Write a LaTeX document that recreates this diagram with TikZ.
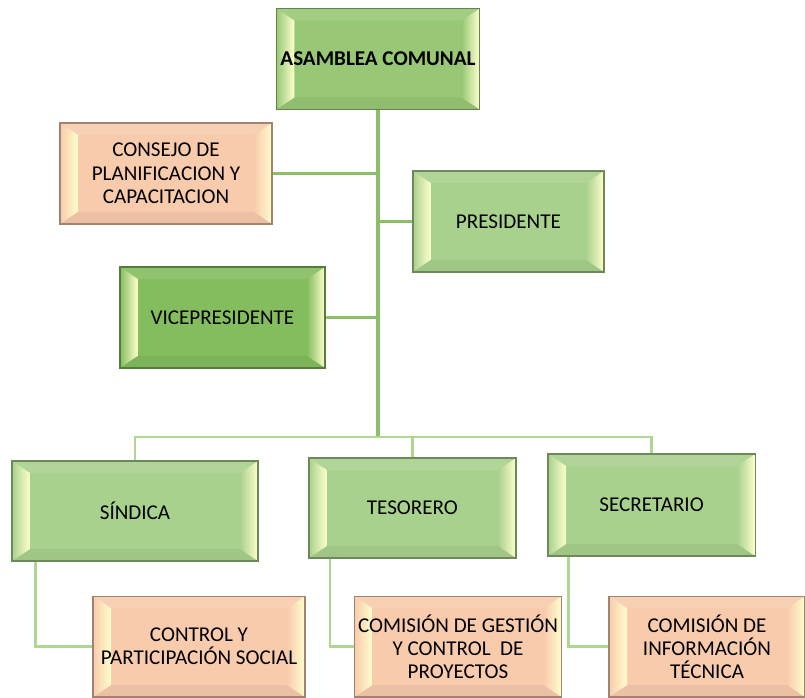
\documentclass[tikz,border=0pt]{standalone}
\usepackage{fontspec}
\setmainfont{Carlito}
\usetikzlibrary{calc}
\definecolor{leaf}{RGB}{169,209,142}
\definecolor{leafmid}{RGB}{152,200,118}
\definecolor{leafdark}{RGB}{132,189,94}
\definecolor{peach}{RGB}{248,203,173}
\definecolor{stemgreen}{RGB}{140,190,106}
\definecolor{twiggreen}{RGB}{176,214,150}
\newcommand{\cardfont}{\fontsize{15}{16.5}\selectfont}
\tikzset{
  card/.style={
    draw=#1!65!black, fill=#1, line width=1pt,
    minimum height=2.52cm, inner sep=2pt, align=center, font=\cardfont,
    path picture={
      \path (path picture bounding box.south west) coordinate (bsw)
            (path picture bounding box.north east) coordinate (bne);
      % bevel: top and bottom bands, then the two shaded sides
      \fill[white, opacity=.10] (bsw|-bne) -- (bne) -- ($(bne)+(-.45,-.3)$)
        -- ($(bsw|-bne)+(.45,-.3)$) -- cycle;
      \fill[black, opacity=.05] (bsw) -- (bne|-bsw) -- ($(bne|-bsw)+(-.45,.3)$)
        -- ($(bsw)+(.45,.3)$) -- cycle;
      \shade[left color=#1, right color=white!80!yellow]
        (bsw) -- (bsw|-bne) -- ($(bsw|-bne)+(.45,-.3)$) -- ($(bsw)+(.45,.3)$) -- cycle;
      \shade[left color=#1, right color=white!80!yellow]
        (bne) -- (bne|-bsw) -- ($(bne|-bsw)+(-.45,.3)$) -- ($(bne)+(-.45,-.3)$) -- cycle;
    }},
}

\begin{document}
\begin{tikzpicture}[
  stem/.style={draw=stemgreen, line width=2.2pt},
  twig/.style={draw=twiggreen, line width=1.8pt},
]
\useasboundingbox (0,0) rectangle (20.125,17.425);

% board
\node[card=leafmid, minimum width=5.08cm, font=\cardfont\bfseries] (asamblea)
  at (9.45,15.95) {ASAMBLEA COMUNAL};
\node[card=peach, minimum width=5.3cm] (consejo) at (4.15,13.09)
  {CONSEJO DE\\PLANIFICACION Y\\CAPACITACION};
\node[card=leaf, minimum width=4.78cm] (presidente) at (12.71,11.89) {PRESIDENTE};
\node[card=leafdark, minimum width=5.13cm] (vice) at (5.56,9.49) {VICEPRESIDENTE};

% second row
\node[card=leaf, minimum width=6.15cm, minimum height=2.5cm] (sindica) at (3.375,4.65) {SÍNDICA};
\node[card=leaf, minimum width=5.18cm, minimum height=2.5cm] (tesorero) at (10.31,4.725) {TESORERO};
\node[card=leaf, minimum width=5.18cm, minimum height=2.55cm] (secretario) at (16.29,4.8) {SECRETARIO};

% commissions
\node[card=peach, minimum width=5.3cm] (control) at (4.975,1.26)
  {CONTROL Y\\PARTICIPACIÓN SOCIAL};
\node[card=peach, minimum width=5.18cm] (gestion) at (11.45,1.26)
  {COMISIÓN DE GESTIÓN\\Y CONTROL\ \ DE\\PROYECTOS};
\node[card=peach, minimum width=4.9cm] (informacion) at (17.675,1.26)
  {COMISIÓN DE\\INFORMACIÓN\\TÉCNICA};

% trunk and side branches
\coordinate (trunk) at (asamblea.south);
\coordinate (bar) at (9.45,6.5);
\draw[stem] (trunk) -- (bar);
\draw[stem] (consejo.east) -- (consejo.east -| trunk);
\draw[stem] (presidente.west) -- (presidente.west -| trunk);
\draw[stem] (vice.east) -- (vice.east -| trunk);

% bar to the second row
\draw[twig] (sindica.north) |- (bar) -| (secretario.north);
\draw[twig] (tesorero.north) -- (tesorero.north |- bar);

% second row to the commissions
\draw[twig] (control.west) -| ($(sindica.south west)+(0.6,0)$);
\draw[twig] (gestion.west) -| ($(tesorero.south west)+(0.55,0)$);
\draw[twig] (informacion.west) -| ($(secretario.south west)+(0.53,0)$);
\end{tikzpicture}
\end{document}
